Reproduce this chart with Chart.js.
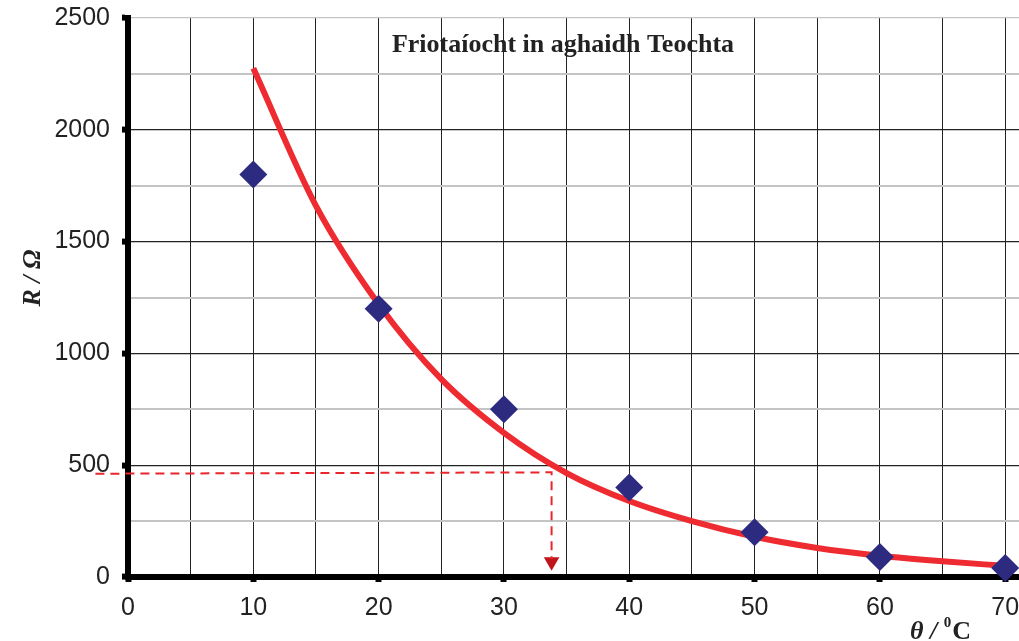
<!DOCTYPE html>
<html>
<head>
<meta charset="utf-8">
<script src="https://cdn.jsdelivr.net/npm/chart.js@4.4.1/dist/chart.umd.min.js"></script>
<style>
  html, body { margin: 0; background: #fff; overflow: hidden; }
  /* the source image is cropped on the right, through the "70" label */
  #wrap { width: 1033px; height: 641px; }
</style>
</head>
<body>
<div id="wrap"><canvas id="myChart"></canvas></div>
<script>
  // measured points (theta in degC, R in ohm)
  var tempPoints = [10, 20, 30, 40, 50, 60, 70];
  var resistance = [1800, 1200, 750, 400, 200, 90, 40];

  // best-fit curve
  var curveTemps = [10, 15, 20, 25, 30, 35, 40, 45, 50, 55, 60, 65, 70];
  var curveR = [2275, 1660, 1220, 885, 645, 465, 340, 250, 180, 130, 95, 70, 50];

  // reading taken from the graph
  var guideTemps = [-2.6, 33.8, 33.8];
  var guideR = [462, 468, 80];
  var arrowTemp = 33.8;
  var arrowR = 68;

  var titleText = "Friotaíocht in aghaidh Teochta";

  function pts(xs, ys) {
    return xs.map(function (x, i) { return { x: x, y: ys[i] }; });
  }

  var overlayText = {
    id: "overlayText",
    afterDraw: function (chart) {
      var c = chart.ctx;
      c.save();
      c.fillStyle = "#222";
      c.textAlign = "center";
      c.textBaseline = "alphabetic";
      c.font = "bold 26px 'Liberation Serif'";
      c.fillText(titleText, 563, 52);

      // x axis title
      c.textAlign = "left";
      c.font = "italic bold 26px 'Liberation Serif'";
      var xt = 910, yt = 639;
      c.fillText("θ / ", xt, yt);
      var w = c.measureText("θ / ").width;
      c.font = "bold 15px 'Liberation Serif'";
      c.fillText("0", xt + w, yt - 12);
      var w2 = c.measureText("0").width;
      c.font = "bold 26px 'Liberation Serif'";
      c.fillText("C", xt + w + w2 + 1, yt);

      // y axis title
      c.translate(40, 278);
      c.rotate(-Math.PI / 2);
      c.textAlign = "center";
      c.font = "italic bold 26px 'Liberation Serif'";
      c.fillText("R / Ω", 0, 0);
      c.restore();
    }
  };

  var ctx = document.getElementById("myChart").getContext("2d");
  var chart = new Chart(ctx, {
    type: "scatter",
    data: {
      datasets: [
        {
          // fitted curve
          type: "line",
          data: pts(curveTemps, curveR),
          borderColor: "#ee2b30",
          borderWidth: 6,
          pointRadius: 0,
          cubicInterpolationMode: "monotone",
          fill: false,
          order: 2
        },
        {
          type: "line",
          data: pts(guideTemps, guideR),
          borderColor: "#e8262c",
          borderWidth: 2,
          borderDash: [9, 6],
          pointRadius: 0,
          tension: 0,
          fill: false,
          clip: false,
          order: 3
        },
        {
          data: pts([arrowTemp], [arrowR]),
          pointStyle: "triangle",
          rotation: 180,
          pointRadius: 9,
          backgroundColor: "#c0141b",
          borderColor: "#c0141b",
          borderWidth: 0,
          order: 3
        },
        {
          label: "R",
          data: pts(tempPoints, resistance),
          pointStyle: "rectRot",
          pointRadius: 14,
          pointHoverRadius: 14,
          backgroundColor: "#2d2b80",
          borderColor: "#2d2b80",
          borderWidth: 0,
          clip: false,
          order: 1
        }
      ]
    },
    options: {
      responsive: true,
      maintainAspectRatio: false,
      animation: false,
      layout: { padding: { top: 18, left: 0, right: 0, bottom: 0 } },
      plugins: {
        legend: { display: false },
        tooltip: { enabled: false }
      },
      scales: {
        x: {
          type: "linear",
          min: 0,
          max: 71.1,
          afterFit: function (scale) {
            scale.height = 64;
            scale.paddingLeft = 0;
          },
          border: { color: "#000", width: 6 },
          grid: {
            color: function (c) { return c.tick && c.tick.value === 0 ? "rgba(0,0,0,0)" : "#222"; },
            lineWidth: 1,
            tickLength: 5,
            tickWidth: 6,
            tickColor: function (c) { return c.tick && c.tick.value % 10 === 0 ? "#000" : "rgba(0,0,0,0)"; }
          },
          ticks: {
            stepSize: 5,
            includeBounds: false,
            autoSkip: false,
            maxRotation: 0,
            padding: 11,
            color: "#222",
            font: { family: "'Liberation Sans'", size: 25 },
            callback: function (v) { return v % 10 === 0 ? v : ""; }
          }
        },
        y: {
          min: 0,
          max: 2500,
          afterFit: function (scale) {
            scale.width = 128;
            scale.paddingTop = 0;
            scale.paddingBottom = 0;
          },
          border: { color: "#000", width: 6 },
          grid: {
            color: function (c) {
              if (!c.tick) return "#222";
              if (c.tick.value === 0) return "rgba(0,0,0,0)";
              return (c.tick.value % 500 === 0 && c.tick.value !== 2500) ? "#222" : "#c4c4c4";
            },
            lineWidth: function (c) { return c.tick && c.tick.value % 500 !== 0 ? 2 : 1.2; },
            tickLength: 6,
            tickWidth: 6,
            tickColor: function (c) { return c.tick && c.tick.value % 500 === 0 ? "#000" : "rgba(0,0,0,0)"; }
          },
          ticks: {
            stepSize: 250,
            autoSkip: false,
            padding: 12,
            color: "#222",
            font: { family: "'Liberation Sans'", size: 25 },
            callback: function (v) { return v % 500 === 0 ? v : ""; }
          }
        }
      }
    },
    plugins: [overlayText]
  });
</script>
</body>
</html>
